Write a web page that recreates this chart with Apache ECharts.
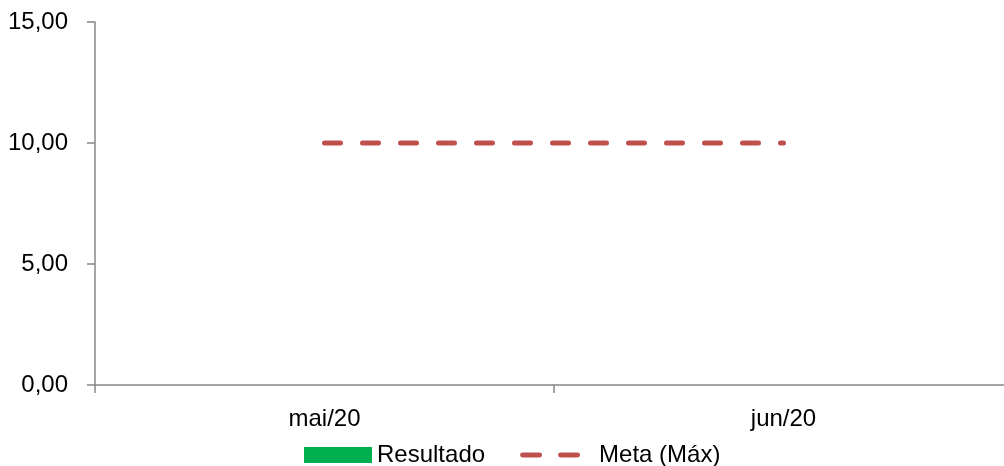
<!DOCTYPE html>
<html>
<head>
<meta charset="utf-8">
<script src="https://cdn.jsdelivr.net/npm/echarts@6/dist/echarts.min.js"></script>
<style>html,body{margin:0;padding:0;background:#fff;}#c{width:1004px;height:466px;}</style>
</head>
<body>
<div id="c"></div>
<script>
var categories = ['mai/20', 'jun/20'];
var resultado = [0, 0];
var meta = [10, 10];
var yMin = 0, yMax = 15, yInterval = 5;

var chart = echarts.init(document.getElementById('c'), null, {renderer: 'canvas'});
var font = 'Liberation Sans, Arial, sans-serif';
var axisColor = '#878787';
var dashIcon = 'path://M0,0L0.01,0Z M68,16L68.01,16Z ' +
  'M2.5,5.5H19.5A2.5,2.5 0 0 1 19.5,10.5H2.5A2.5,2.5 0 0 1 2.5,5.5Z ' +
  'M40.5,5.5H57.5A2.5,2.5 0 0 1 57.5,10.5H40.5A2.5,2.5 0 0 1 40.5,5.5Z';
chart.setOption({
  animation: false,
  grid: {left: 95, right: -9, top: 22, bottom: 81, containLabel: false, outerBoundsMode: 'none'},
  legend: {
    left: 304, top: 443, padding: 0,
    itemWidth: 68, itemHeight: 16, itemGap: 35,
    textStyle: {fontFamily: font, fontSize: 24, color: '#000'},
    data: [
      {name: 'Resultado', icon: 'rect'},
      {name: 'Meta (Máx)', icon: dashIcon, itemStyle: {color: '#C0504D'},
        textStyle: {padding: [0, 0, 0, 6]}}
    ]
  },
  xAxis: {
    type: 'category', data: categories, boundaryGap: true,
    axisLine: {lineStyle: {color: axisColor, width: 1.5}},
    axisTick: {show: true, length: 8, lineStyle: {color: axisColor, width: 1.5}},
    axisLabel: {fontFamily: font, fontSize: 24, color: '#000', margin: 22}
  },
  yAxis: {
    type: 'value', min: yMin, max: yMax, interval: yInterval,
    splitLine: {show: false},
    axisLine: {show: true, lineStyle: {color: axisColor, width: 1.5}},
    axisTick: {show: true, length: 8, lineStyle: {color: axisColor, width: 1.5}},
    axisLabel: {fontFamily: font, fontSize: 24, color: '#000', margin: 27,
      formatter: function (v) { return v.toFixed(2).replace('.', ','); }}
  },
  series: [
    {name: 'Resultado', type: 'bar', data: resultado, itemStyle: {color: '#00B050'}, barWidth: '40%'},
    {name: 'Meta (Máx)', type: 'line', data: meta, symbol: 'none',
      itemStyle: {color: '#C0504D'},
      lineStyle: {color: '#C0504D', width: 5, type: [16, 22], cap: 'round'}}
  ]
});
</script>
</body>
</html>
